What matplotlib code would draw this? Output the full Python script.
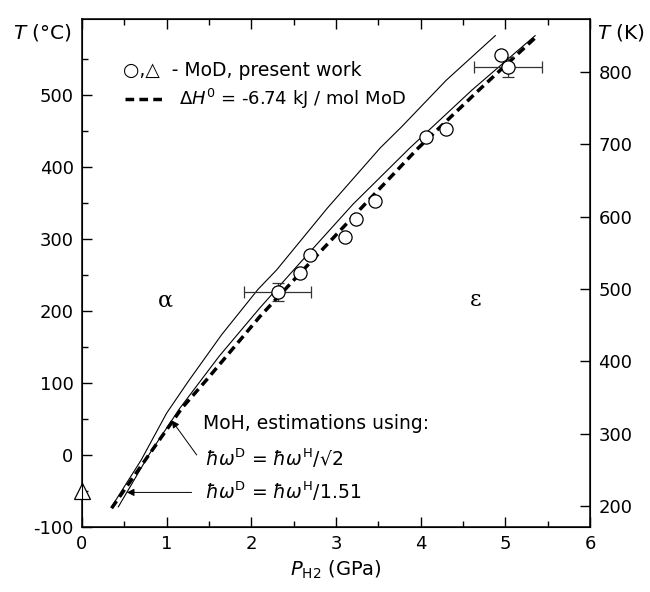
import numpy as np
import matplotlib
matplotlib.use('Agg')
import matplotlib.pyplot as plt

plt.rcParams['font.family'] = ['DejaVu Sans']
plt.rcParams['mathtext.fontset'] = 'dejavusans'
plt.rcParams['axes.unicode_minus'] = False

# 实验点 (MoD)
p_mod = [2.31, 2.57, 2.69, 3.10, 3.23, 3.46, 4.06, 4.30, 4.95, 5.03]
t_mod = [226, 252, 277, 302, 327, 353, 441, 453, 555, 538]
# 带误差棒的点
p_err = [2.31, 5.03]
t_err = [226, 538]
p_err_size = [0.40, 0.40]
t_err_size = [13, 14]
# 三角形点
p_tri = [0.0]
t_tri = [-50]

# 曲线
p_dash = [0.35, 0.79, 1.18, 1.47, 2.10, 2.63, 3.30, 3.97, 4.70, 5.36]
t_dash = [-74, 0, 65, 104, 192, 259, 343, 426, 508, 580]
p_sqrt2 = [0.35, 0.70, 1.00, 1.255, 1.65, 2.08, 2.30, 2.90, 3.52, 3.77, 4.30, 4.88]
t_sqrt2 = [-72, -7, 58, 102, 167, 230, 257, 343, 426, 455, 520, 582]
p_151 = [0.43, 0.80, 1.157, 1.62, 2.10, 2.57, 3.20, 3.87, 4.60, 5.35]
t_151 = [-72, 2, 65, 137, 204, 266, 348, 426, 506, 582]

fig = plt.figure(figsize=(6.5, 5.92), dpi=100)
ax = fig.add_axes([0.126, 0.1098, 0.782, 0.858])

ax.plot(p_sqrt2, t_sqrt2, color='k', lw=0.8)
ax.plot(p_151, t_151, color='k', lw=0.8)
dash_line, = ax.plot(p_dash, t_dash, color='k', lw=2.5, dashes=(2.5, 1.5),
                     solid_capstyle='butt', dash_capstyle='butt')
ax.errorbar(p_err, t_err, xerr=p_err_size, yerr=t_err_size, fmt='none',
            ecolor='#333333', elinewidth=0.9, capsize=4, capthick=0.9, zorder=3)
ax.plot(p_mod, t_mod, 'o', ms=9.5, mfc='white', mec='k', mew=0.9, zorder=4)
ax.plot(p_tri, t_tri, '^', ms=12, mfc='white', mec='k', mew=0.9, zorder=5,
        clip_on=False)

ax.set_xlim(0, 6)
ax.set_ylim(-100, 605)
ax.set_xticks(range(0, 7))
ax.set_xticks(np.arange(0.5, 6, 1), minor=True)
ax.set_yticks(range(-100, 501, 100))
ax.set_yticks(range(-50, 601, 100), minor=True)
ax.tick_params(which='both', direction='in', top=True, labelsize=13, pad=6)
ax.tick_params(which='major', length=7, width=1)
ax.tick_params(which='minor', length=4, width=1)
for s in ax.spines.values():
    s.set_linewidth(1.1)

ax2 = ax.twinx()
ax2.set_ylim(171, 873)
ax2.set_yticks(range(200, 801, 100))
ax2.tick_params(direction='in', length=7, width=1, labelsize=13, pad=6)

ax.text(-0.02, 0.974, r'$T$ (°C)', transform=ax.transAxes, ha='right',
        va='center', fontsize=14.5)
ax.text(1.014, 0.974, r'$T$ (K)', transform=ax.transAxes, ha='left',
        va='center', fontsize=14.5)
ax.set_xlabel(r'$P_{\mathrm{H2}}$ (GPa)', fontsize=14, labelpad=4)

ax.text(0.98, 215, 'α', fontsize=16, family='DejaVu Serif', ha='center', va='center')
ax.text(4.65, 215, 'ε', fontsize=16, family='DejaVu Serif', ha='center', va='center')

ax.text(0.081, 0.898, '○,△  - MoD, present work', transform=ax.transAxes,
        ha='left', va='center', fontsize=13.5)
ax.legend([dash_line], [r'$\Delta H^0$ = -6.74 kJ / mol MoD'], loc='center left',
          bbox_to_anchor=(0.084, 0.842), frameon=False, fontsize=13,
          borderpad=0, borderaxespad=0, handlelength=2.1, handletextpad=0.9)

ax.text(1.43, 43, 'MoH, estimations using:', fontsize=13.5, ha='left', va='center')
ax.text(1.45, -4, r'$\hbar\omega^{\mathrm{D}}$ = $\hbar\omega^{\mathrm{H}}$/√2',
        fontsize=13.5, ha='left', va='center')
ax.text(1.45, -50, r'$\hbar\omega^{\mathrm{D}}$ = $\hbar\omega^{\mathrm{H}}$/1.51',
        fontsize=13.5, ha='left', va='center')

arrow_kw = dict(arrowstyle='-|>', lw=0.7, color='k', mutation_scale=11,
                shrinkA=0, shrinkB=0)
ax.annotate('', xy=(1.06, 48), xytext=(1.355, 0), arrowprops=arrow_kw)
ax.annotate('', xy=(0.53, -52), xytext=(1.295, -52), arrowprops=arrow_kw)

fig.savefig('out.png', dpi=100)
